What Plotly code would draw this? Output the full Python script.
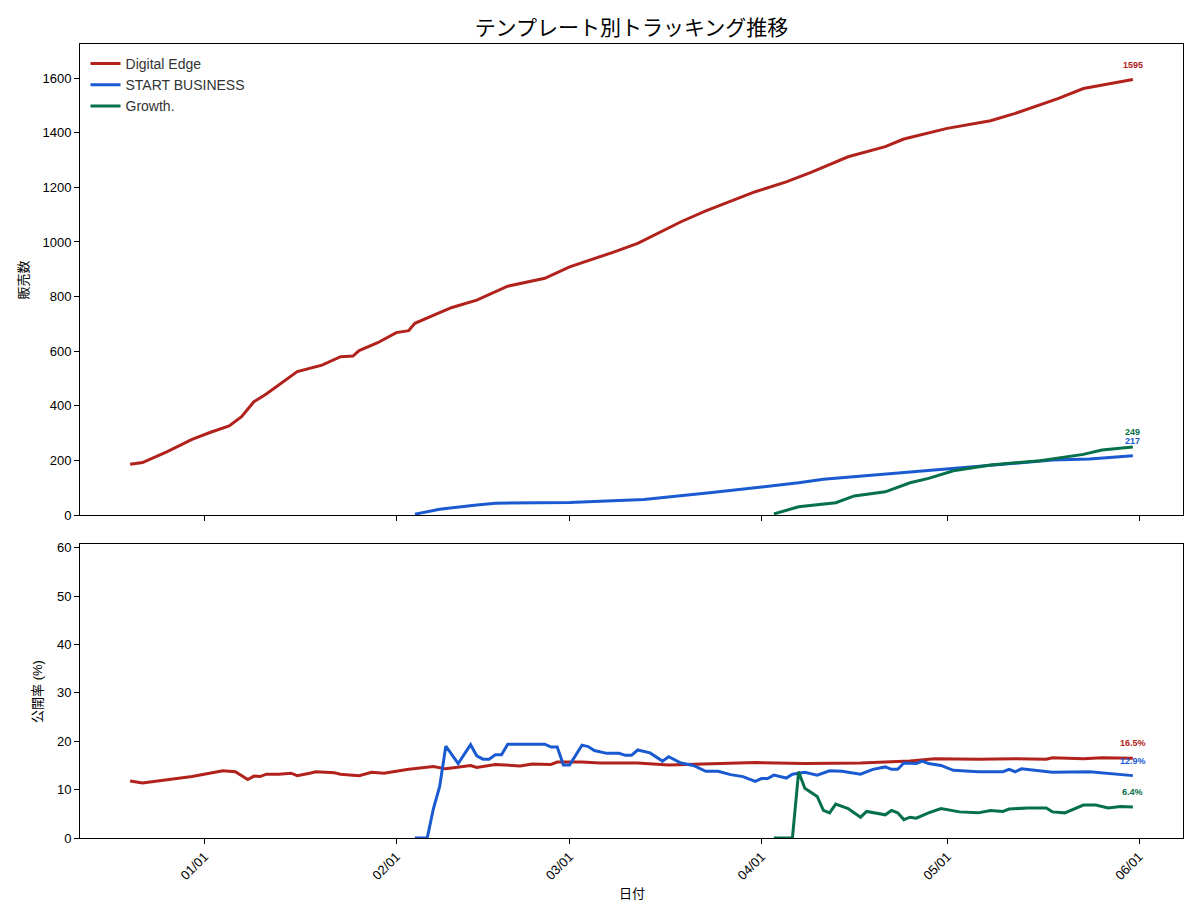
import plotly.graph_objects as go
from plotly.subplots import make_subplots

# ---------------- data ----------------
de_dates = ["2024-12-20", "2024-12-22", "2024-12-26", "2024-12-30", "2025-01-02", "2025-01-05",
            "2025-01-07", "2025-01-09", "2025-01-11", "2025-01-14", "2025-01-16", "2025-01-20",
            "2025-01-23", "2025-01-25", "2025-01-26", "2025-01-29", "2025-02-01", "2025-02-03",
            "2025-02-04", "2025-02-08", "2025-02-10", "2025-02-14", "2025-02-19", "2025-02-25",
            "2025-03-01", "2025-03-08", "2025-03-12", "2025-03-19", "2025-03-23", "2025-03-31",
            "2025-04-05", "2025-04-09", "2025-04-15", "2025-04-21", "2025-04-24", "2025-05-01",
            "2025-05-08", "2025-05-12", "2025-05-19", "2025-05-23", "2025-05-31"]
de_sales = [186, 192, 232, 277, 303, 326, 360, 415, 443, 494, 525, 549, 580, 582, 602, 631, 668,
            675, 702, 741, 760, 787, 838, 867, 909, 962, 995, 1074, 1114, 1184, 1220, 1255, 1312,
            1349, 1377, 1416, 1444, 1471, 1526, 1562, 1595]

sb_dates = ["2025-02-04", "2025-02-08", "2025-02-14", "2025-02-17", "2025-03-01", "2025-03-13",
            "2025-03-24", "2025-04-02", "2025-04-07", "2025-04-11", "2025-04-21", "2025-05-01",
            "2025-05-08", "2025-05-18", "2025-05-24", "2025-05-31"]
sb_sales = [3, 21, 37, 43, 46, 57, 82, 104, 118, 131, 150, 171, 183, 201, 205, 217]

gr_dates = ["2025-04-03", "2025-04-07", "2025-04-13", "2025-04-16", "2025-04-21", "2025-04-25",
            "2025-04-28", "2025-05-02", "2025-05-08", "2025-05-16", "2025-05-23", "2025-05-26",
            "2025-05-31"]
gr_sales = [4, 30, 45, 70, 85, 118, 134, 162, 183, 199, 222, 238, 249]

de_rate_dates = ["2024-12-20", "2024-12-22", "2024-12-30", "2025-01-04", "2025-01-06", "2025-01-08",
                 "2025-01-09", "2025-01-10", "2025-01-11", "2025-01-13", "2025-01-15", "2025-01-16",
                 "2025-01-18", "2025-01-19", "2025-01-22", "2025-01-23", "2025-01-26", "2025-01-28",
                 "2025-01-30", "2025-02-01", "2025-02-03", "2025-02-07", "2025-02-09", "2025-02-13",
                 "2025-02-14", "2025-02-17", "2025-02-21", "2025-02-23", "2025-02-26", "2025-02-27",
                 "2025-03-03", "2025-03-06", "2025-03-12", "2025-03-17", "2025-03-25", "2025-03-31",
                 "2025-04-08", "2025-04-17", "2025-04-25", "2025-04-29", "2025-05-06", "2025-05-12",
                 "2025-05-17", "2025-05-18", "2025-05-23", "2025-05-26", "2025-05-31"]
de_rate = [11.8, 11.4, 12.7, 13.9, 13.7, 12.1, 12.8, 12.7, 13.2, 13.2, 13.4, 12.9, 13.4, 13.7, 13.5,
           13.2, 12.9, 13.6, 13.4, 13.8, 14.2, 14.8, 14.3, 15.0, 14.6, 15.2, 14.9, 15.3, 15.2, 15.7,
           15.7, 15.5, 15.5, 15.1, 15.4, 15.6, 15.4, 15.5, 15.9, 16.4, 16.3, 16.4, 16.3, 16.6, 16.4,
           16.6, 16.5]

sb_rate_dates = ["2025-02-04", "2025-02-06", "2025-02-07", "2025-02-08", "2025-02-09", "2025-02-11",
                 "2025-02-13", "2025-02-14", "2025-02-15", "2025-02-16", "2025-02-17", "2025-02-18",
                 "2025-02-19", "2025-02-25", "2025-02-26", "2025-02-27", "2025-02-28", "2025-03-01",
                 "2025-03-03", "2025-03-04", "2025-03-05", "2025-03-07", "2025-03-09", "2025-03-10",
                 "2025-03-11", "2025-03-12", "2025-03-14", "2025-03-16", "2025-03-17", "2025-03-19",
                 "2025-03-21", "2025-03-23", "2025-03-25", "2025-03-27", "2025-03-29", "2025-03-31",
                 "2025-04-01", "2025-04-02", "2025-04-03", "2025-04-05", "2025-04-06", "2025-04-08",
                 "2025-04-10", "2025-04-12", "2025-04-14", "2025-04-17", "2025-04-19", "2025-04-21",
                 "2025-04-22", "2025-04-23", "2025-04-24", "2025-04-26", "2025-04-27", "2025-04-28",
                 "2025-04-30", "2025-05-02", "2025-05-06", "2025-05-10", "2025-05-11", "2025-05-12",
                 "2025-05-13", "2025-05-18", "2025-05-24", "2025-05-31"]
sb_rate = [0, 0, 6.1, 10.6, 19.0, 15.4, 19.3, 17.0, 16.3, 16.3, 17.2, 17.2, 19.4, 19.4, 18.8, 18.8,
           15.1, 15.1, 19.2, 18.9, 18.1, 17.5, 17.5, 17.1, 17.1, 18.2, 17.6, 15.9, 16.8, 15.5, 15.0,
           13.8, 13.8, 13.1, 12.7, 11.7, 12.3, 12.3, 13.0, 12.4, 13.2, 13.6, 13.0, 13.9, 13.8, 13.2,
           14.2, 14.7, 14.2, 14.2, 15.5, 15.4, 15.9, 15.4, 15.0, 14.0, 13.7, 13.7, 14.2, 13.7, 14.3,
           13.6, 13.7, 12.9]

gr_rate_dates = ["2025-04-03", "2025-04-06", "2025-04-07", "2025-04-08", "2025-04-10", "2025-04-11",
                 "2025-04-12", "2025-04-13", "2025-04-15", "2025-04-17", "2025-04-18", "2025-04-20",
                 "2025-04-21", "2025-04-22", "2025-04-23", "2025-04-24", "2025-04-25", "2025-04-26",
                 "2025-04-28", "2025-04-30", "2025-05-03", "2025-05-06", "2025-05-08", "2025-05-10",
                 "2025-05-11", "2025-05-14", "2025-05-17", "2025-05-18", "2025-05-20", "2025-05-23",
                 "2025-05-25", "2025-05-27", "2025-05-29", "2025-05-31"]
gr_rate = [0, 0, 13.7, 10.3, 8.6, 5.7, 5.2, 7.0, 6.1, 4.3, 5.5, 5.1, 4.8, 5.7, 5.2, 3.8, 4.3, 4.1,
           5.2, 6.1, 5.4, 5.2, 5.7, 5.5, 6.0, 6.2, 6.2, 5.4, 5.2, 6.8, 6.8, 6.2, 6.5, 6.4]

names = ["Digital Edge", "START BUSINESS", "Growth."]
colors = ["#B2221C", "#1A5AD0", "#06704A"]

x_tick_vals = ["2025-01-01", "2025-02-01", "2025-03-01", "2025-04-01", "2025-05-01", "2025-06-01"]
x_tick_text = ["01/01", "02/01", "03/01", "04/01", "05/01", "06/01"]
x_range = ["2024-12-11 21:36", "2025-06-08 02:24"]

FONT = "Liberation Sans, Noto Sans CJK JP, sans-serif"

# ---------------- figure ----------------
fig = make_subplots(rows=2, cols=1, shared_xaxes=True)

top_series = [(de_dates, de_sales), (sb_dates, sb_sales), (gr_dates, gr_sales)]
bot_series = [(de_rate_dates, de_rate), (sb_rate_dates, sb_rate), (gr_rate_dates, gr_rate)]

for (xs, ys), name, c in zip(top_series, names, colors):
    fig.add_trace(go.Scatter(x=xs, y=ys, mode="lines", name=name,
                             line=dict(color=c, width=3)), row=1, col=1)
for (xs, ys), name, c in zip(bot_series, names, colors):
    fig.add_trace(go.Scatter(x=xs, y=ys, mode="lines", name=name, showlegend=False,
                             line=dict(color=c, width=3)), row=2, col=1)

annos = []
for (xs, ys), c in zip(top_series, colors):
    annos.append(dict(x=xs[-1], y=ys[-1], xref="x", yref="y", text=f"<b>{ys[-1]}</b>",
                      showarrow=False, yshift=15, yanchor="middle", xanchor="center",
                      font=dict(size=9, color=c, family=FONT)))
for (xs, ys), c in zip(bot_series, colors):
    annos.append(dict(x=xs[-1], y=ys[-1], xref="x2", yref="y2", text=f"<b>{ys[-1]}%</b>",
                      showarrow=False, yshift=15, yanchor="middle", xanchor="center",
                      font=dict(size=9, color=c, family=FONT)))

# axis titles as annotations
annos.append(dict(x=-0.0508, y=(1 + 0.4068) / 2, xref="paper", yref="paper", text="販売数",
                  textangle=-90, showarrow=False, xanchor="center", yanchor="middle",
                  font=dict(size=13, color="black", family=FONT)))
annos.append(dict(x=-0.0381, y=0.3703 / 2, xref="paper", yref="paper", text="公開率 (%)",
                  textangle=-90, showarrow=False, xanchor="center", yanchor="middle",
                  font=dict(size=13, color="black", family=FONT)))
annos.append(dict(x=0.5, y=-0.0693, xref="paper", yref="paper", text="日付",
                  showarrow=False, xanchor="center", yanchor="middle",
                  font=dict(size=13, color="black", family=FONT)))

axis_common = dict(showline=True, mirror=True, linecolor="black", linewidth=1,
                   ticks="outside", ticklen=5, tickcolor="black", showgrid=False,
                   zeroline=False, tickfont=dict(size=13, color="black", family=FONT))

fig.update_layout(
    width=1200, height=900,
    margin=dict(l=80, r=17, t=44, b=62),
    paper_bgcolor="white", plot_bgcolor="white",
    font=dict(family=FONT, color="black"),
    title=dict(text="テンプレート別トラッキング推移", x=0.5, xref="paper",
               y=1 - 28 / 900, yref="container", xanchor="center", yanchor="middle",
               font=dict(size=21, color="black", family=FONT)),
    legend=dict(x=0.005, y=0.995, xanchor="left", yanchor="top", bgcolor="rgba(0,0,0,0)",
                font=dict(size=14, family=FONT, color="#333"), tracegroupgap=0),
    annotations=annos,
    showlegend=True,
)

fig.update_xaxes(**axis_common)
fig.update_yaxes(**axis_common)

fig.update_layout(
    xaxis=dict(domain=[0, 1], range=x_range, tickvals=x_tick_vals, ticktext=x_tick_text,
               showticklabels=False, automargin=False),
    xaxis2=dict(domain=[0, 1], range=x_range, tickvals=x_tick_vals, ticktext=x_tick_text,
                tickangle=-45, automargin=False),
    yaxis=dict(domain=[0.4068, 1], range=[0, 1725], tickvals=list(range(0, 1601, 200)),
               automargin=False),
    yaxis2=dict(domain=[0, 0.3703], range=[0, 60.8], tickvals=list(range(0, 61, 10)),
                automargin=False),
)

fig.write_html("out.html")
